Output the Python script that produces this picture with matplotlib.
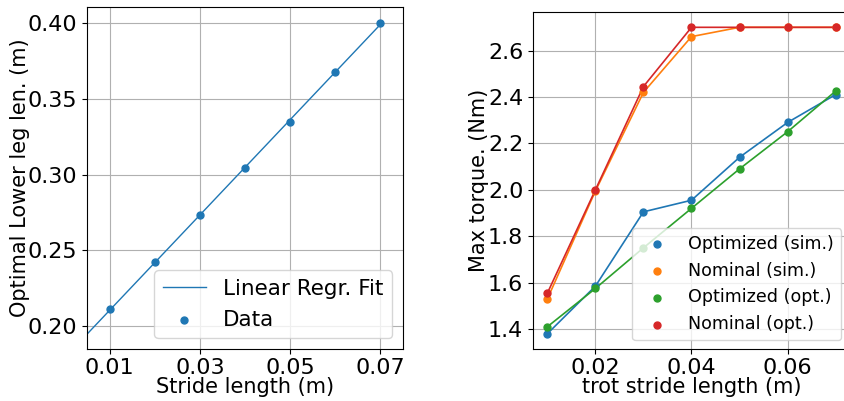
import matplotlib
matplotlib.use("Agg")
import matplotlib.pyplot as plt
import numpy as np

# stride length (m)
stride = [0.01, 0.02, 0.03, 0.04, 0.05, 0.06, 0.07]

# optimal lower leg length (m)
leg_len = [0.211, 0.242, 0.273, 0.304, 0.335, 0.368, 0.400]

# max torque (Nm)
opt_sim = [1.38, 1.585, 1.905, 1.955, 2.14, 2.29, 2.41]
nom_sim = [1.53, 1.995, 2.42, 2.66, 2.70, 2.70, 2.70]
opt_opt = [1.41, 1.575, 1.75, 1.92, 2.09, 2.25, 2.425]
nom_opt = [1.555, 2.0, 2.445, 2.70, 2.70, 2.70, 2.70]

fig = plt.figure(figsize=(8.45, 4.01), dpi=100)
W, H = 845.0, 401.0

#Panneau gauche : longueur de jambe optimale
ax1 = fig.add_axes([87 / W, 1 - 349 / H, 316 / W, 342 / H])
coef = np.polyfit(stride, leg_len, 1)
xf = np.linspace(0.005, 0.07, 50)
ax1.plot(xf, np.polyval(coef, xf), color="C0", lw=1, label="Linear Regr. Fit")
ax1.scatter(stride, leg_len, s=25, color="C0", label="Data", zorder=3)
ax1.set_xlim(0.005, 0.075)
ax1.set_ylim(0.1848, 0.4106)
ax1.set_xticks([0.01, 0.03, 0.05, 0.07])
ax1.set_yticks([0.20, 0.25, 0.30, 0.35, 0.40])
ax1.set_xlabel("Stride length (m)", fontsize=15, labelpad=-1)
ax1.set_ylabel("Optimal Lower leg len. (m)", fontsize=15, labelpad=-2)
ax1.tick_params(labelsize=16)
ax1.tick_params(axis="x", pad=3)
ax1.grid(True)
ax1.legend(loc="lower right", fontsize=15.5)

#Panneau droit : couple max
ax2 = fig.add_axes([533 / W, 1 - 349 / H, 317 / W, 337 / H])
series = [(opt_sim, "Optimized (sim.)"), (nom_sim, "Nominal (sim.)"),
          (opt_opt, "Optimized (opt.)"), (nom_opt, "Nominal (opt.)")]
for i, (vals, name) in enumerate(series):
    ax2.plot(stride, vals, color="C%d" % i, lw=1.2)
    ax2.scatter(stride, vals, s=25, color="C%d" % i, label=name, zorder=3)
ax2.set_xticks([0.02, 0.04, 0.06])
ax2.set_yticks([1.4, 1.6, 1.8, 2.0, 2.2, 2.4, 2.6])
ax2.set_xlabel("trot stride length (m)", fontsize=15, labelpad=-1)
ax2.set_ylabel("Max torque. (Nm)", fontsize=15, labelpad=-1)
ax2.tick_params(labelsize=16)
ax2.tick_params(axis="x", pad=3)
ax2.grid(True)
ax2.legend(loc="lower right", fontsize=12.6)

fig.savefig("out.png", dpi=100)
